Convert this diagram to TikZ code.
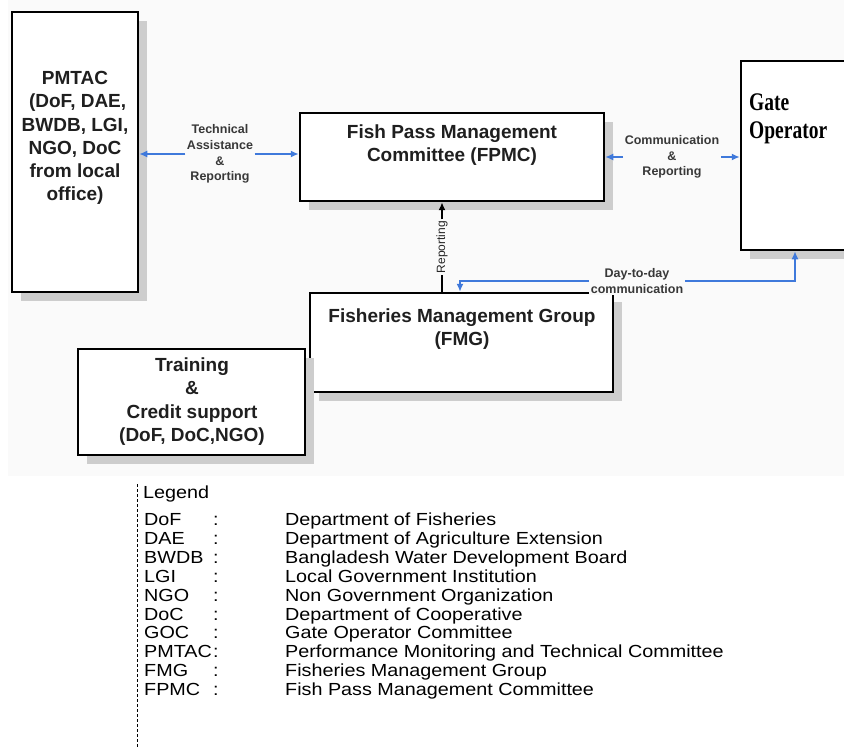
\documentclass[tikz,border=0pt]{standalone}
\usepackage{fontspec}
\setmainfont{Liberation Sans}
\newfontfamily\gatefont{Liberation Serif}
\usetikzlibrary{arrows.meta,shadows}
\definecolor{bgc}{HTML}{FAFAFA}
\definecolor{arrowblue}{HTML}{3F79DB}
\definecolor{shadowc}{HTML}{CDCDCD}
\begin{document}
\begin{tikzpicture}[x=1pt,y=-1pt,
  orgbox/.style={draw=black, line width=2.5pt, fill=white, inner sep=0pt,
    drop shadow={shadow xshift=9pt, shadow yshift=-9pt, fill=shadowc, opacity=1}},
  btext/.style={align=center, font=\fontsize{19}{23.2}\selectfont\bfseries, text=black!88, inner sep=0pt},
  lbl/.style={align=center, font=\fontsize{12.5}{15.7}\selectfont\bfseries, text=black!78, fill=bgc, inner sep=1.5pt},
  barrow/.style={draw=arrowblue, line width=1.5pt, -{Latex[length=8pt,width=7pt]}},
  bbarrow/.style={draw=arrowblue, line width=1.5pt, {Latex[length=8pt,width=7pt]}-{Latex[length=8pt,width=7pt]}},
  karrow/.style={draw=black, line width=2pt, -{Latex[length=8pt,width=7pt]}},
  leg/.style={font=\fontsize{17.5}{17.5}\selectfont, inner sep=0pt, anchor=base west, text=black}
]
\useasboundingbox (0,0) rectangle (844,749);
\clip (0,0) rectangle (844,749);
\fill[bgc] (8,0) rectangle (844,476);

% boxes
\node[orgbox, minimum width=126pt, minimum height=280pt] (pmtac) at (75,152) {};
\node[orgbox, minimum width=304pt, minimum height=88pt] (fpmc) at (452,157) {};
\node[orgbox, minimum width=130pt, minimum height=189pt] (gate) at (806,155.5) {};
\node[orgbox, minimum width=303pt, minimum height=99pt] (fmg) at (461.5,342.5) {};
\node[orgbox, minimum width=227pt, minimum height=106pt] (train) at (191.5,402) {};

% box texts
\node[btext] (pmtacT) at (75,138) {PMTAC\\\ (DoF, DAE,\\BWDB, LGI,\\NGO, DoC\\from local\\office)};
\node[btext] (fpmcT) at (452,145) {Fish Pass Management\\Committee (FPMC)};
\node[btext] (fmgT) at (462,329) {Fisheries Management Group\\(FMG)};
\node[btext] (trainT) at (192,401.5) {Training\\\&\\Credit support\\(DoF, DoC,NGO)};
\node[anchor=west, inner sep=0pt, text=black] (gateT) at (749,119)
  {\scalebox{1}[1.3]{\gatefont\bfseries\fontsize{19.5}{21.5}\selectfont\begin{tabular}{@{}l@{}}Gate\\Operator\end{tabular}}};

% labels and connectors
\node[lbl] (ta) at (220,154) {Technical\\Assistance\\\&\\Reporting};
\draw[barrow] (ta.west) -- (ta.west -| pmtac.east);
\draw[barrow] (ta.east) -- (ta.east -| fpmc.west);

\node[lbl] (cr) at (672,157) {Communication\\\&\\Reporting};
\draw[barrow] (cr.west) -- (cr.west -| fpmc.east);
\draw[barrow] (cr.east) -- (cr.east -| gate.west);

\node[rotate=90, font=\fontsize{12}{14}\selectfont, text=black!85, fill=bgc, inner sep=1.5pt] (rep) at (442,247) {Reporting};
\draw[draw=black, line width=2pt] (fmg.north -| rep.center) -- (rep.west);
\draw[karrow] (rep.east) -- (fpmc.south -| rep.center);

\coordinate (ddA) at (460,281);
\coordinate (ddB) at (795,281);
\draw[bbarrow] (fmg.north -| ddA) -- (ddA) -- (ddB) -- (gate.south -| ddB);
\node[lbl] (dd) at (637,281) {Day-to-day\\communication};

% legend
\draw[line width=0.8pt, dash pattern=on 3pt off 2pt] (137,484) -- (137,749);
\node[leg] (legT) at (143,498.5) {\scalebox{1.13}[1]{Legend}};
\foreach \a/\d [count=\i] in {DoF/Department of Fisheries, DAE/Department of Agriculture Extension,
  BWDB/Bangladesh Water Development Board, LGI/Local Government Institution,
  NGO/Non Government Organization, DoC/Department of Cooperative,
  GOC/Gate Operator Committee, PMTAC/Performance Monitoring and Technical Committee,
  FMG/Fisheries Management Group, FPMC/Fish Pass Management Committee} {
  \node[leg] (ab\i) at (144,{525.5+(\i-1)*18.9}) {\scalebox{1.13}[1]{\a}};
  \node[leg] (co\i) at (213,{525.5+(\i-1)*18.9}) {\scalebox{1.13}[1]{:}};
  \node[leg] (de\i) at (285,{525.5+(\i-1)*18.9}) {\scalebox{1.13}[1]{\d}};
}
\end{tikzpicture}
\end{document}
